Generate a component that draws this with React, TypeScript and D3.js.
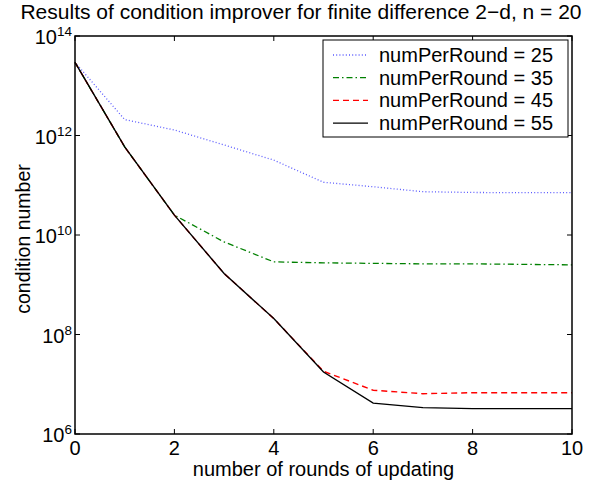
import React, { useEffect, useRef } from "react";
import * as d3 from "d3";

const rounds = [0, 1, 2, 3, 4, 5, 6, 7, 8, 9, 10];
// log10 of condition number
const log25 = [13.47, 12.32, 12.11, 11.81, 11.505, 11.06, 10.97, 10.87, 10.855, 10.85, 10.85];
const log35 = [13.47, 11.77, 10.4, 9.86, 9.46, 9.44, 9.43, 9.42, 9.42, 9.41, 9.4];
const log45 = [13.47, 11.77, 10.4, 9.225, 8.32, 7.26, 6.88, 6.81, 6.83, 6.83, 6.83];
const log55 = [13.47, 11.77, 10.4, 9.225, 8.32, 7.245, 6.62, 6.53, 6.51, 6.51, 6.51];
const seriesNames = ["numPerRound = 25", "numPerRound = 35", "numPerRound = 45", "numPerRound = 55"];
const xTicks = [0, 2, 4, 6, 8, 10];
const yTickExps = [6, 8, 10, 12, 14];
const titleText = "Results of condition improver for finite difference 2\u2212d, n = 20";
const xLabel = "number of rounds of updating";
const yLabel = "condition number";

const styles = [
  { color: "#5a5aff", dash: "1,2.2", width: 1.3 },
  { color: "#008000", dash: "6,3,1.5,3", width: 1.3 },
  { color: "#ff0000", dash: "6,4", width: 1.4 },
  { color: "#000000", dash: null as string | null, width: 1.4 },
];

export default function App() {
  const ref = useRef<SVGSVGElement>(null);
  useEffect(() => {
    const svg = d3.select(ref.current);
    svg.selectAll("*").remove();
    const W = 597, H = 480;
    const left = 75, right = 572, top = 36, bottom = 434;
    const font = "'Liberation Sans', Arial, Helvetica, sans-serif";
    const x = d3.scaleLinear().domain([0, 10]).range([left, right]);
    const y = d3.scaleLog().domain([1e6, 1e14]).range([bottom, top]);

    svg.append("rect").attr("width", W).attr("height", H).attr("fill", "white");

    const data = [log25, log35, log45, log55].map((arr) =>
      arr.map((v, i) => ({ x: rounds[i], y: Math.pow(10, v) }))
    );
    const line = d3
      .line<{ x: number; y: number }>()
      .x((d) => x(d.x))
      .y((d) => y(d.y));

    data.forEach((d, i) => {
      const p = svg
        .append("path")
        .attr("d", line(d))
        .attr("fill", "none")
        .attr("stroke", styles[i].color)
        .attr("stroke-width", styles[i].width);
      if (styles[i].dash) p.attr("stroke-dasharray", styles[i].dash);
    });

    // axes box
    svg
      .append("rect")
      .attr("x", left)
      .attr("y", top)
      .attr("width", right - left)
      .attr("height", bottom - top)
      .attr("fill", "none")
      .attr("stroke", "black")
      .attr("stroke-width", 1.5);

    // x ticks
    xTicks.forEach((t) => {
      const px = x(t);
      svg.append("line").attr("x1", px).attr("x2", px).attr("y1", bottom).attr("y2", bottom - 5).attr("stroke", "black");
      svg.append("line").attr("x1", px).attr("x2", px).attr("y1", top).attr("y2", top + 5).attr("stroke", "black");
      svg
        .append("text")
        .attr("x", px)
        .attr("y", bottom + 21)
        .attr("text-anchor", "middle")
        .attr("font-family", font)
        .attr("font-size", 20)
        .text(String(t));
    });

    // y ticks
    yTickExps.forEach((e) => {
      const py = y(Math.pow(10, e));
      svg.append("line").attr("x1", left).attr("x2", left + 5).attr("y1", py).attr("y2", py).attr("stroke", "black");
      svg.append("line").attr("x1", right).attr("x2", right - 5).attr("y1", py).attr("y2", py).attr("stroke", "black");
      const t = svg
        .append("text")
        .attr("x", 72)
        .attr("y", py + 8)
        .attr("text-anchor", "end")
        .attr("font-family", font)
        .attr("font-size", 20);
      t.append("tspan").text("10");
      t.append("tspan").attr("dy", -8).attr("font-size", 13.5).text(String(e));
    });

    // title
    svg
      .append("text")
      .attr("x", 301)
      .attr("y", 19.2)
      .attr("text-anchor", "middle")
      .attr("font-family", font)
      .attr("font-size", 21)
      .text(titleText);

    // x label
    svg
      .append("text")
      .attr("x", (left + right) / 2)
      .attr("y", 476)
      .attr("text-anchor", "middle")
      .attr("font-family", font)
      .attr("font-size", 20)
      .text(xLabel);

    // y label
    svg
      .append("text")
      .attr("transform", `translate(30,${(top + bottom) / 2 + 4}) rotate(-90)`)
      .attr("text-anchor", "middle")
      .attr("font-family", font)
      .attr("font-size", 19.5)
      .text(yLabel);

    // legend
    const lg = svg.append("g");
    lg.append("rect")
      .attr("x", 323)
      .attr("y", 40)
      .attr("width", 245)
      .attr("height", 97)
      .attr("fill", "white")
      .attr("stroke", "black")
      .attr("stroke-width", 1);
    seriesNames.forEach((name, i) => {
      const cy = 55 + i * 22.7;
      const l = lg
        .append("line")
        .attr("x1", 333)
        .attr("x2", 368)
        .attr("y1", cy)
        .attr("y2", cy)
        .attr("stroke", styles[i].color)
        .attr("stroke-width", styles[i].width);
      if (styles[i].dash) l.attr("stroke-dasharray", styles[i].dash);
      lg.append("text")
        .attr("x", 379)
        .attr("y", cy + 7)
        .attr("font-family", font)
        .attr("font-size", 20)
        .text(name);
    });
  }, []);
  return <svg ref={ref} width={597} height={480} style={{ display: "block", position: "absolute", left: 0, top: 0 }} />;
}
